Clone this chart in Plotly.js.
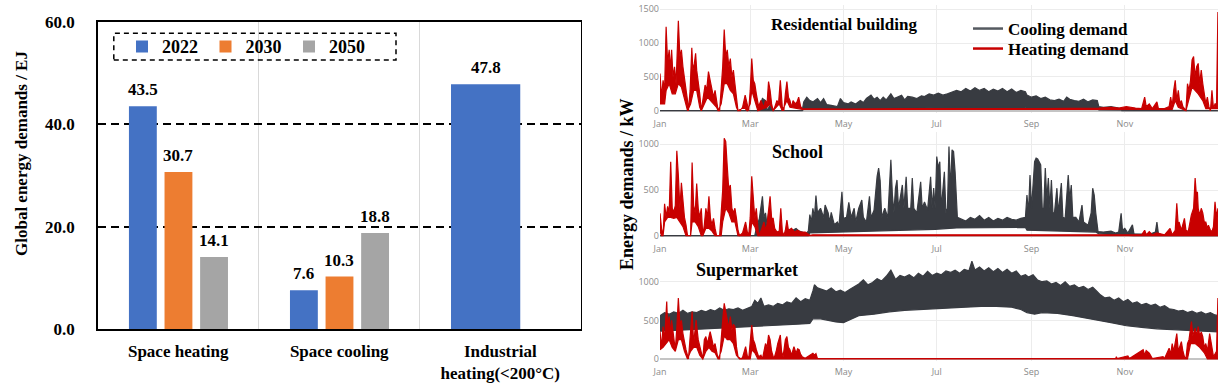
<!DOCTYPE html>
<html>
<head>
<meta charset="utf-8">
<script src="https://cdn.plot.ly/plotly-3.0.1.min.js"></script>
<style>html,body{margin:0;padding:0;background:#fff;}#chart{width:1223px;height:385px;}</style>
</head>
<body>
<div id="chart"></div>
<script>
// ---------------- Left panel data ----------------
const categories = ['Space heating', 'Space cooling', 'Industrial heating'];
const categoryLabels = ['Space heating', 'Space cooling', 'Industrial<br>heating(&lt;200°C)'];
const years = ['2022', '2030', '2050'];
const v2022 = [43.5, 7.6, 47.8];
const v2030 = [30.7, 10.3];
const v2050 = [14.1, 18.8];

// ---------------- Right panel data (day of year, kW) ----------------
const resHeatUpper = [[0,550],[1,200],[2,450],[3,300],[4,1240],[5,700],[6,900],[7,600],[7.6,900],[8.5,500],[9.5,650],[10.5,400],[11,700],[12,1330],[13,800],[14,900],[15,650],[16,500],[17,300],[18,150],[18.6,0],[19.7,300],[20.8,930],[21.5,600],[22.5,700],[23.3,850],[24,600],[25,450],[26,250],[27,0],[28,150],[29.5,380],[30.5,300],[31.7,580],[32.8,450],[34,300],[35,200],[36,300],[37,150],[38,0],[39,0],[40,300],[41,650],[42,1200],[43,800],[44,900],[45,650],[46,770],[47,500],[48,600],[49,400],[50,150],[51,0],[52.5,0],[54,50],[55.7,230],[57,100],[58,0],[59,300],[60,770],[61,450],[62,400],[63,250],[64.5,60],[66,150],[67.8,50],[69,150],[70,100],[71,430],[72,300],[73,100],[74,0],[75,50],[76.5,150],[77.5,100],[78.7,450],[80,50],[81,0],[82,250],[83,430],[84,200],[85,150],[86,50],[87,150],[88.5,100],[89.6,130],[90.7,200],[92,60],[93,30],[120,25],[160,30],[200,28],[250,30],[287,40],[295,50],[300,40],[305,60],[311,40],[315,30],[317,200],[318,60],[320,100],[322,30],[325,130],[326,30],[330,30],[333,60],[334,200],[335,60],[336,300],[337,450],[338,150],[339,300],[340,100],[341,150],[342,60],[343,30],[344,0],[345,400],[346,300],[347,450],[348,750],[349,800],[350,500],[351,650],[352,700],[353,400],[354,600],[355,400],[356,250],[357,100],[358,200],[359,60],[360,0],[361,300],[362,30],[363,100],[364,100],[364.9,1460]];
const resHeatLower = [[0,100],[3,100],[4,300],[6,400],[8,250],[10,250],[12,400],[14,350],[16,200],[18,0],[20,100],[22,300],[24,300],[26,50],[27,0],[29,100],[31,200],[33,150],[35,100],[37,50],[38,0],[40,100],[42,400],[44,400],[46,300],[48,250],[50,50],[51,0],[55,50],[57,0],[59,100],[60,300],[62,150],[64,0],[70,50],[72,100],[74,0],[78,100],[80,0],[83,150],[85,50],[93,20],[300,20],[335,20],[337,150],[339,50],[344,0],[346,150],[348,350],[352,250],[355,150],[357,30],[364.9,30]];
const resCoolUpper = [[0,0],[64,0],[65.5,80],[67,180],[69,150],[70,0],[71,40],[72,80],[74,0],[93,0],[94,130],[96,200],[98,150],[100,130],[103,180],[105,120],[107,180],[109,90],[112,80],[116,60],[118,180],[120,120],[123,100],[125,130],[128,100],[131,150],[133,120],[135,180],[138,230],[140,170],[142,200],[144,150],[146,200],[148,160],[151,250],[153,180],[155,200],[158,230],[160,160],[162,210],[165,200],[168,180],[171,220],[173,210],[176,250],[179,230],[182,260],[185,230],[188,250],[191,280],[194,300],[197,280],[200,330],[203,290],[206,340],[209,300],[212,330],[215,280],[218,320],[221,290],[224,330],[227,280],[230,320],[233,270],[236,300],[239,280],[240,230],[243,200],[246,220],[249,180],[252,200],[255,160],[258,150],[261,170],[264,140],[266,200],[268,170],[271,150],[274,140],[277,170],[280,130],[283,160],[286,150],[287,60],[290,50],[295,60],[300,40],[302,0],[364.9,0]];
const resCoolLower = [[0,0],[93,0],[94,20],[150,30],[180,45],[238,50],[240,35],[286,30],[287,10],[300,0],[364.9,0]];

const schHeatUpper = [[0,245],[1,80],[2,0],[3,350],[4,200],[5,320],[6,250],[7,810],[8,300],[9,260],[10,330],[11,930],[12,660],[13,300],[14,580],[15,330],[16,200],[17,120],[18,0],[20,0],[21,800],[22,330],[23,250],[24,570],[25,300],[26,200],[27,300],[28,0],[29,120],[30,300],[31,200],[32,430],[33,190],[34,120],[35,190],[36,80],[37,0],[39,0],[40,260],[41,500],[42,1065],[43,1030],[44,755],[45,500],[46,555],[47,300],[48,250],[49,300],[50,190],[51,60],[52,0],[54,30],[56,150],[57,50],[58,0],[59,200],[60,650],[61,370],[62,190],[63,300],[64,100],[64.5,0],[66,50],[68,150],[69,60],[70,120],[72,430],[73,190],[74,190],[75,80],[76.5,40],[78,50],[79,300],[80,50],[81,0],[82,60],[83,170],[84,60],[86,80],[88,40],[90,60],[92,40],[95,40],[98,5],[100,10],[300,10],[315,10],[317,60],[318,10],[320,45],[322,10],[325,30],[330,10],[333.6,80],[335,10],[337,60],[338,355],[339,100],[339.5,150],[341,60],[343,190],[344,60],[345.5,45],[347.5,225],[349,300],[350,630],[351,400],[351.5,480],[352,300],[353,225],[354,300],[355,250],[356,150],[357,150],[358,80],[358.7,115],[360,60],[361,45],[362,100],[363,370],[364,200],[364.9,300]];
const schHeatLower = [[0,50],[1,0],[2,0],[3,150],[5,200],[7,200],[9,190],[11,200],[13,150],[15,100],[17,0],[20,0],[21,150],[23,150],[25,100],[27,0],[28,0],[30,80],[32,80],[34,50],[36,0],[40,0],[41,150],[43,300],[45,250],[47,150],[49,150],[51,0],[59,0],[60,150],[62,100],[64,0],[364.9,0]];
const schCoolUpper = [[0,0],[62,0],[63,80],[65,190],[67,430],[68,200],[69,250],[70,120],[71,245],[72,100],[73,0],[86,0],[87,60],[89,80],[91,50],[93,40],[95,20],[97,50],[98,230],[99,150],[100,300],[101,200],[102,440],[103,250],[105,300],[107,200],[108,335],[110,250],[111,150],[112,255],[114,120],[116,150],[117,100],[119,480],[120,190],[122,200],[123.5,365],[125,200],[127,300],[128,150],[130,300],[132,390],[133,200],[135,150],[137,430],[138,200],[140,280],[142,650],[143,740],[144,600],[145,200],[147,300],[149,200],[151,830],[152,445],[153,250],[154,520],[155,610],[156,300],[158.5,555],[159.5,300],[161,645],[162,300],[164,300],[165,630],[166,300],[168,250],[170.5,590],[171.5,300],[173,370],[175,280],[177,645],[178,300],[179,520],[180,300],[181,865],[182,740],[183,810],[184,300],[186,700],[187,250],[188,300],[189,975],[190,500],[191,940],[192,920],[193,700],[194.5,200],[197,180],[200,160],[203,200],[206,180],[209,220],[212,170],[215,200],[218,160],[221,190],[224,170],[227,200],[230,180],[233,170],[236,190],[239,200],[240,445],[241,250],[242,665],[243,300],[245,810],[246,850],[247,840],[248,810],[249,775],[250,300],[251,300],[252,740],[253,400],[254,630],[255,300],[256,610],[257,250],[258,250],[259.6,520],[260.5,250],[262.5,575],[263.5,200],[265,190],[267,665],[268,400],[269,555],[270,200],[272,200],[274,150],[276,335],[277,150],[280,115],[282,250],[283,520],[284,445],[285,250],[286.5,45],[290,40],[295,50],[298,30],[300,40],[301.6,245],[302.5,60],[304,80],[306,30],[309,120],[310,20],[320,15],[324,40],[325,150],[326,20],[330,0],[364.9,0]];
const schCoolLower = [[0,0],[97,0],[98,30],[120,40],[140,50],[160,60],[180,70],[194,85],[239,90],[240,60],[285,40],[287,20],[300,10],[310,0],[364.9,0]];

const supHeatUpper = [[0,355],[1,150],[2,420],[3,250],[4.4,745],[5,400],[6,550],[7,300],[7.6,500],[9,250],[10,120],[11,400],[12,790],[13,450],[14,500],[15,330],[16,200],[17,120],[18.6,0],[19.7,290],[21,615],[22,200],[23.6,505],[25,250],[26,150],[27,95],[28,0],[29,250],[30,290],[31,200],[32.8,355],[34,250],[35,150],[36,200],[37,120],[38,0],[39,0],[40,330],[41,500],[42,720],[43,600],[43.6,550],[45,400],[46,550],[47,380],[48,450],[49,420],[50,160],[51,30],[53,0],[54,20],[56,160],[57,50],[58,0],[59,200],[60,440],[61,250],[62,200],[63,120],[64.5,30],[66,50],[67,0],[69,200],[70,150],[71,310],[72,250],[73,100],[74.5,0],[76,100],[77,200],[78.7,310],[79.5,100],[80.5,30],[82,250],[83,290],[84,150],[85,120],[86,50],[87.6,160],[89,75],[90,130],[91,120],[92,60],[93,30],[95,10],[98,50],[100,75],[101,50],[102,70],[103,5],[298,5],[298.5,30],[299,5],[306,40],[307,5],[316,120],[317,50],[318,110],[320,75],[322,5],[329,30],[330,5],[333,140],[334,60],[335,200],[336,100],[338,330],[339,100],[340,160],[341,225],[342,100],[343,30],[344,0],[345,200],[346,250],[347.6,485],[348.5,300],[350,400],[351,300],[352,420],[353,300],[354,350],[355,290],[356,150],[357,200],[358,100],[359.5,330],[361,150],[362,30],[364,100],[364.9,790]];
const supHeatLower = [[0,120],[2,150],[4,200],[6,250],[8,150],[10,100],[12,250],[14,250],[16,100],[18,0],[20,100],[22,150],[24,150],[26,50],[28,0],[30,100],[32,150],[34,100],[36,80],[38,0],[40,100],[42,300],[44,250],[46,250],[48,200],[50,50],[52,0],[59,0],[60,120],[62,80],[64,0],[345,0],[347,200],[350,200],[353,150],[356,80],[358,0],[364.9,0]];
const supCoolUpper = [[0,560],[3,600],[6,580],[9,610],[12,590],[15,630],[18,590],[21,610],[24,600],[27,630],[30,610],[33,640],[36,620],[39,660],[42,630],[45,650],[48,640],[51,660],[54,630],[57,650],[60,680],[62,760],[64,720],[66,790],[68,680],[71,700],[74,680],[77,720],[80,700],[83,740],[86,720],[89,790],[92,740],[95,780],[98,760],[100,880],[101,960],[103,920],[106,900],[109,880],[112,920],[115,870],[118,890],[121,860],[124,900],[127,940],[130,970],[133,1025],[136,960],[139,990],[142,1040],[145,1010],[148,1070],[151,1150],[154,1030],[157,1080],[160,1060],[163,1090],[166,1050],[169,1110],[172,1070],[175,1135],[178,1080],[181,1110],[184,1090],[187,1140],[190,1120],[193,1150],[196,1110],[199,1160],[202,1140],[204,1265],[206,1150],[209,1190],[212,1140],[215,1180],[218,1130],[221,1170],[224,1120],[227,1160],[230,1110],[233,1140],[236,1070],[239,1090],[241,1060],[244,1090],[247,1020],[250,1000],[253,1010],[256,970],[259,990],[262,950],[265,1000],[268,940],[271,960],[274,920],[277,940],[280,900],[283,930],[286,870],[288,830],[291,790],[294,800],[297,760],[300,790],[303,740],[306,770],[309,720],[312,740],[315,700],[318,720],[321,690],[324,710],[327,670],[330,690],[333,650],[336,640],[339,620],[342,630],[345,600],[348,620],[351,590],[354,610],[357,580],[360,600],[363,570],[364.9,560]];
const supCoolLower = [[0,360],[10,370],[20,375],[30,390],[40,400],[50,410],[60,420],[70,430],[80,440],[90,450],[98,460],[100,520],[105,520],[110,500],[115,480],[120,470],[125,520],[130,560],[140,580],[150,610],[160,630],[170,640],[180,650],[190,660],[200,670],[210,680],[220,680],[230,670],[236,640],[240,600],[245,580],[250,600],[260,590],[270,560],[280,530],[287,500],[295,470],[305,430],[315,410],[325,390],[335,380],[345,370],[355,360],[364.9,350]];

// ---------------- Styles ----------------
const BLUE = '#4472C4', ORANGE = '#ED7D31', GRAY = '#A5A5A5';
const COOL = '#383b41', HEAT = '#c80000';
const SERIF = 'Liberation Serif, Times New Roman, serif';
const W = 1223, H = 385;
const px = v => v / W;
const py = v => 1 - v / H;

function dayToDate(d) {
  const t = Date.UTC(2019, 0, 1) + d * 86400000;
  return new Date(t).toISOString().replace('T', ' ').slice(0, 19);
}
function band(upper, lower, color, xa, ya) {
  const low = lower.slice().reverse();
  return {
    type: 'scatter', mode: 'lines', xaxis: xa, yaxis: ya, showlegend: false,
    x: upper.map(p => dayToDate(p[0])).concat(low.map(p => dayToDate(p[0]))),
    y: upper.map(p => p[1]).concat(low.map(p => p[1])),
    fill: 'toself', fillcolor: color, line: {color: color, width: 1.2}, hoverinfo: 'skip'
  };
}

const barWidth = 0.173;
const seriesDefs = [
  {name: years[0], vals: v2022, color: BLUE, offset: -0.306, widths: [barWidth, barWidth, 0.43]},
  {name: years[1], vals: v2030, color: ORANGE, offset: -0.085, widths: [barWidth, barWidth]},
  {name: years[2], vals: v2050, color: GRAY, offset: 0.136, widths: [barWidth, barWidth]}
];

const traces = [];
const annotations = [];
seriesDefs.forEach(s => {
  traces.push({
    type: 'bar', name: s.name, x: categories.slice(0, s.vals.length), y: s.vals,
    offset: s.offset, width: s.widths, marker: {color: s.color}, xaxis: 'x', yaxis: 'y',
    legend: 'legend'
  });
  s.vals.forEach((v, j) => {
    annotations.push({
      xref: 'x', yref: 'y', x: j + s.offset + s.widths[j] / 2, y: v,
      text: v.toFixed(1), showarrow: false, yanchor: 'bottom', yshift: 5,
      font: {family: SERIF, size: 17, color: '#000', weight: 700}
    });
  });
});

// right panels
traces.push(band(resCoolUpper, resCoolLower, COOL, 'x2', 'y2'));
traces.push(band(resHeatUpper, resHeatLower, HEAT, 'x2', 'y2'));
traces.push(band(schCoolUpper, schCoolLower, COOL, 'x3', 'y3'));
traces.push(band(schHeatUpper, schHeatLower, HEAT, 'x3', 'y3'));
traces.push(band(supCoolUpper, supCoolLower, COOL, 'x4', 'y4'));
traces.push(band(supHeatUpper, supHeatLower, HEAT, 'x4', 'y4'));
// legend entries for the right panels
traces.push({type: 'scatter', mode: 'lines', x: [null], y: [null], xaxis: 'x2', yaxis: 'y2',
  name: 'Cooling demand', line: {color: '#555a60', width: 2.5}, legend: 'legend2'});
traces.push({type: 'scatter', mode: 'lines', x: [null], y: [null], xaxis: 'x2', yaxis: 'y2',
  name: 'Heating demand', line: {color: HEAT, width: 2.5}, legend: 'legend3'});

// titles
const titleFont = {family: SERIF, size: 18, color: '#000', weight: 700};
annotations.push({xref: 'paper', yref: 'paper', x: px(844), y: py(24), text: 'Residential building',
  showarrow: false, font: Object.assign({}, titleFont, {size: 17}), xanchor: 'center', yanchor: 'middle'});
annotations.push({xref: 'paper', yref: 'paper', x: px(797), y: py(152), text: 'School',
  showarrow: false, font: titleFont, xanchor: 'center', yanchor: 'middle'});
annotations.push({xref: 'paper', yref: 'paper', x: px(747), y: py(270), text: 'Supermarket',
  showarrow: false, font: titleFont, xanchor: 'center', yanchor: 'middle'});
annotations.push({xref: 'paper', yref: 'paper', x: px(627), y: py(184), text: 'Energy demands / kW',
  showarrow: false, textangle: -90, font: {family: SERIF, size: 18, color: '#000', weight: 700},
  xanchor: 'center', yanchor: 'middle'});
annotations.push({xref: 'paper', yref: 'paper', x: px(21), y: py(154), text: 'Global energy demands / EJ',
  showarrow: false, textangle: -90, font: {family: SERIF, size: 17, color: '#000', weight: 700},
  xanchor: 'center', yanchor: 'middle'});

const smallTick = {family: 'Open Sans, Arial, sans-serif', size: 9, color: '#8a8a8a'};
function dateAxis() {
  return {
    type: 'date', range: ['2019-01-01', '2019-12-31 23:00'],
    tick0: '2019-01-01', dtick: 'M2', tickformat: '%b', tickfont: smallTick, ticklabelstandoff: 4,
    showgrid: true, gridcolor: '#ececec', gridwidth: 1, zeroline: false, showline: false, ticks: ''
  };
}
function valAxis(top, bottom, zeroPx, pxPerUnit) {
  return {
    domain: [py(bottom), py(top)],
    range: [-(bottom - zeroPx) / pxPerUnit, (zeroPx - top) / pxPerUnit],
    dtick: 500, tickfont: smallTick, showgrid: true, gridcolor: '#ececec', gridwidth: 1,
    zeroline: true, zerolinecolor: '#c4c4c4', zerolinewidth: 2, showline: false, ticks: ''
  };
}
const xDom = [px(660), px(1218)];

const layout = {
  width: W, height: H, margin: {l: 0, r: 0, t: 0, b: 0}, paper_bgcolor: '#fff', plot_bgcolor: 'rgba(0,0,0,0)',
  barmode: 'overlay', showlegend: true,
  xaxis: {
    domain: [px(97.7), px(580.8)], type: 'category', categoryarray: categories, range: [-0.5, 2.5],
    tickvals: categories, ticktext: categoryLabels, tickson: 'boundaries', ticks: '',
    showgrid: true, gridcolor: '#d9d9d9', gridwidth: 1,
    showline: true, linecolor: '#000', linewidth: 2, mirror: true, ticklabelstandoff: 5,
    tickfont: {family: SERIF, size: 17, color: '#000', weight: 700}
  },
  yaxis: {
    domain: [py(329.3), py(21.7)], range: [0, 60], dtick: 20, tickformat: '.1f', ticks: '',
    showgrid: true, gridcolor: '#000', griddash: '8px,5px', gridwidth: 1.6, zeroline: false,
    showline: true, linecolor: '#000', linewidth: 1.5, mirror: true, ticklabelstandoff: 18,
    tickfont: {family: SERIF, size: 17, color: '#000', weight: 700}
  },
  xaxis2: Object.assign(dateAxis(), {domain: xDom, anchor: 'y2'}),
  yaxis2: Object.assign(valAxis(5, 113, 110.7, 101.4 / 1500), {anchor: 'x2'}),
  xaxis3: Object.assign(dateAxis(), {domain: xDom, anchor: 'y3'}),
  yaxis3: Object.assign(valAxis(132, 238, 235.7, 91.4 / 1000), {anchor: 'x3'}),
  xaxis4: Object.assign(dateAxis(), {domain: xDom, anchor: 'y4'}),
  yaxis4: Object.assign(valAxis(256, 361, 359, 77.3 / 1000), {anchor: 'x4'}),
  legend: {
    orientation: 'h', x: px(122), y: py(46.7), xanchor: 'left', yanchor: 'middle',
    bgcolor: 'rgba(0,0,0,0)', borderwidth: 0, entrywidth: 38.5, entrywidthmode: 'pixels',
    font: {family: SERIF, size: 18, color: '#000', weight: 700}, traceorder: 'normal'
  },
  legend2: {
    x: px(968), y: py(29), xanchor: 'left', yanchor: 'middle', bgcolor: 'rgba(0,0,0,0)',
    font: {family: SERIF, size: 17, color: '#000', weight: 700}
  },
  legend3: {
    x: px(968), y: py(49), xanchor: 'left', yanchor: 'middle', bgcolor: 'rgba(0,0,0,0)',
    font: {family: SERIF, size: 17, color: '#000', weight: 700}
  },
  shapes: [{
    type: 'rect', xref: 'paper', yref: 'paper', x0: px(113.8), x1: px(396), y0: py(60), y1: py(33.3),
    line: {color: '#000', width: 1.5, dash: '5px,4px'}, fillcolor: 'rgba(0,0,0,0)'
  }],
  annotations: annotations
};

Plotly.newPlot('chart', traces, layout, {staticPlot: true, displayModeBar: false});
</script>
</body>
</html>
